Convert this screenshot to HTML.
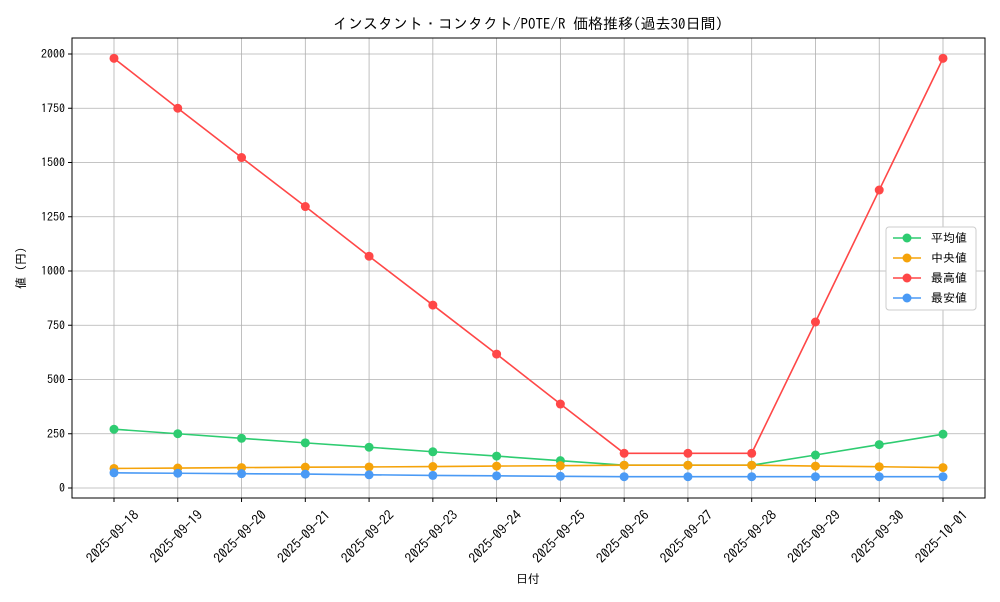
<!DOCTYPE html>
<html><head><meta charset="utf-8"><style>
body{margin:0;background:#fff;font-family:"IPAGothic","Noto Sans CJK JP",sans-serif;}
text{font-family:"IPAGothic","Noto Sans CJK JP",sans-serif;}
</style></head><body>
<svg id="chart" width="1000" height="600"></svg>
<script>
const dates=["2025-09-18","2025-09-19","2025-09-20","2025-09-21","2025-09-22","2025-09-23","2025-09-24","2025-09-25","2025-09-26","2025-09-27","2025-09-28","2025-09-29","2025-09-30","2025-10-01"];
const avgVals=[271,250,229,208,188,167,147,126,105,105,105,152,200,248];
const medVals=[90,92,94,96,97,99,101,103,105,105,105,101,98,94];
const maxVals=[1980,1750,1523,1297,1068,843,617,387,160,160,160,765,1373,1980];
const minVals=[70,68,66,64,61,58,56,54,52,52,52,52,52,52];
const yTicks=[0,250,500,750,1000,1250,1500,1750,2000];
const seriesNames=["平均値","中央値","最高値","最安値"];
const colors=["#2ecc71","#f5a30a","#ff4747","#4a9af5"];
const L=72,R=985,T=38,B=498;
const x=i=>114+i*(943-114)/(dates.length-1);
const y=v=>488-v*0.217;
const svg=document.getElementById('chart');
const NS="http://www.w3.org/2000/svg";
function mk(tag,attrs,parent){const e=document.createElementNS(NS,tag);for(const k in attrs)e.setAttribute(k,attrs[k]);(parent||svg).appendChild(e);return e;}
dates.forEach((d,i)=>{const g=mk('line',{x1:x(i),x2:x(i),y1:T,y2:B,stroke:'#b0b0b0','stroke-width':0.8});

});
yTicks.forEach(v=>{const g=mk('line',{x1:L,x2:R,y1:y(v),y2:y(v),stroke:'#b0b0b0','stroke-width':0.8});


mk('line',{x1:L-4,x2:L,y1:y(v),y2:y(v),stroke:'#000'});
const t=mk('text',{x:L-7,y:y(v)+4,'text-anchor':'end','font-size':12});t.textContent=v;

});
dates.forEach((d,i)=>{mk('line',{x1:x(i),x2:x(i),y1:B,y2:B+4,stroke:'#000'});
const cx=x(i)-1,cy=537;
const t=mk('text',{x:cx,y:cy+4,'text-anchor':'middle','font-size':13.5,transform:`rotate(-45 ${cx} ${cy})`});t.textContent=d;

});
const fr=mk('rect',{x:L,y:T,width:R-L,height:B-T,fill:'none',stroke:'#000','stroke-width':1});


const all=[avgVals,medVals,maxVals,minVals];
all.forEach((vals,s)=>{const g=mk('g',{});


mk('polyline',{points:vals.map((v,i)=>x(i)+','+y(v)).join(' '),fill:'none',stroke:colors[s],'stroke-width':1.6},g);
vals.forEach((v,i)=>{const c=mk('circle',{cx:x(i),cy:y(v),r:4.5,fill:colors[s]},g);

});});
const title=mk('text',{x:528,y:29,'text-anchor':'middle','font-size':15});title.textContent="インスタント・コンタクト/POTE/R 価格推移(過去30日間)";


const xt=mk('text',{x:528,y:583,'text-anchor':'middle','font-size':12});xt.textContent="日付";


const yt=mk('text',{x:25,y:268,'text-anchor':'middle','font-size':12,transform:'rotate(-90 25 268)'});yt.textContent="値 (円)";


const lg=mk('g',{});


mk('rect',{x:886,y:227,width:90,height:83,fill:'#fff',stroke:'#ccc',rx:3},lg);
seriesNames.forEach((n,s)=>{const yy=238+s*20;const e=mk('g',{},lg);


mk('line',{x1:893,x2:921,y1:yy,y2:yy,stroke:colors[s],'stroke-width':1.6},e);
mk('circle',{cx:907,cy:yy,r:4.5,fill:colors[s]},e);
const t=mk('text',{x:931,y:yy+4,'font-size':12},e);t.textContent=n;});
</script>
</body></html>
